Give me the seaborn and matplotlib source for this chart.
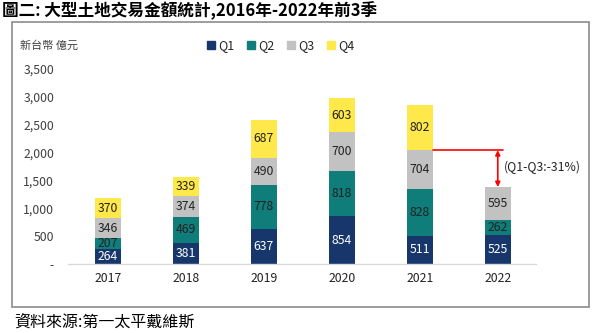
import matplotlib
matplotlib.use("Agg")
import matplotlib.pyplot as plt
import seaborn as sns
import pandas as pd
import numpy as np
from matplotlib.patches import Rectangle

years = ["2017", "2018", "2019", "2020", "2021", "2022"]
q1 = [264, 381, 637, 854, 511, 525]
q2 = [207, 469, 778, 818, 828, 262]
q3 = [346, 374, 490, 700, 704, 595]
q4 = [370, 339, 687, 603, 802, 0]
series_names = ["Q1", "Q2", "Q3", "Q4"]
colors = ["#17366B", "#0F7D7A", "#C2C2C2", "#FFE94A"]
text_colors = ["white", "#222222", "#222222", "#222222"]
yticks = [0, 500, 1000, 1500, 2000, 2500, 3000, 3500]
ytick_labels = ["-", "500", "1,000", "1,500", "2,000", "2,500", "3,000", "3,500"]
title = "圖二: 大型土地交易金額統計,2016年-2022年前3季"
unit_label = "新台幣 億元"
source = "資料來源:第一太平戴維斯"
note = "(Q1-Q3:-31%)"

sns.set_theme(style="white")
plt.rcParams['font.family'] = ['Noto Sans CJK TC', 'DejaVu Sans']

fig = plt.figure(figsize=(6, 3.33), dpi=100)
# outer frame
fig.patches.append(Rectangle((12/600, 1-307/333), (589-12)/600, (307-22)/333,
                             transform=fig.transFigure, fill=False,
                             edgecolor="#8C8C8C", linewidth=1.2))
ax = fig.add_axes([68/600, 1-264/333, 468/600, 195/333])

vals = np.array([q1, q2, q3, q4], dtype=float)
cum = np.cumsum(vals, axis=0)

# draw stacked via overlay (tallest first)
for i in range(3, -1, -1):
    d = pd.DataFrame({"year": years, "v": cum[i]})
    sns.barplot(data=d, x="year", y="v", color=colors[i], width=0.34,
                saturation=1, ax=ax, edgecolor="none", linewidth=0)

# value labels
for i in range(4):
    for j in range(len(years)):
        v = vals[i, j]
        if v <= 0:
            continue
        mid = cum[i, j] - v / 2
        ax.text(j, mid, f"{int(v)}", ha="center", va="center",
                color=text_colors[i], fontsize=8.8)

ax.set_xlim(-0.51, 5.49)
ax.set_ylim(0, 3500)
ax.set_yticks(yticks)
ax.set_yticklabels(ytick_labels)
ax.set_xlabel("")
ax.set_ylabel("")
ax.tick_params(axis="y", length=0, pad=10, labelsize=8.8, labelcolor="#404040")
ax.tick_params(axis="x", length=0, pad=6, labelsize=8.8, labelcolor="#222222")
for s in ["top", "right", "left"]:
    ax.spines[s].set_visible(False)
ax.spines["bottom"].set_color("#D9D9D9")
ax.spines["bottom"].set_linewidth(1)
ax.patch.set_alpha(0)

# annotation
top21 = cum[2, 4]
top22 = cum[2, 5]
ax.plot([4 + 0.17, 5.07], [top21, top21], color="#FF0000", lw=1.2)
ax.annotate("", xy=(5, top22), xytext=(5, top21),
            arrowprops=dict(arrowstyle="<|-|>", color="#FF0000", lw=1.2,
                            shrinkA=0, shrinkB=0, mutation_scale=7))
ax.text(5.08, (top21 + top22) / 2 + 20, note, ha="left", va="center",
        fontsize=8.8, color="#222222")

# legend
handles = [Rectangle((0, 0), 1, 1, color=c) for c in colors]
fig.legend(handles, series_names, loc="center", bbox_to_anchor=(281/600, 1-46/333),
           ncol=4, frameon=False, fontsize=9, handlelength=0.6, handleheight=0.6,
           handletextpad=0.3, columnspacing=1.0)

fig.text(20/600, 1-46/333, unit_label, ha="left", va="center", fontsize=8, color="#404040")
fig.text(2/600, 1-11/333, title, ha="left", va="center", fontsize=12,
         fontweight="bold", color="#000000")
fig.text(14/600, 1-322/333, source, ha="left", va="center", fontsize=11.5,
         color="#000000")

fig.savefig("out.png", dpi=100)
